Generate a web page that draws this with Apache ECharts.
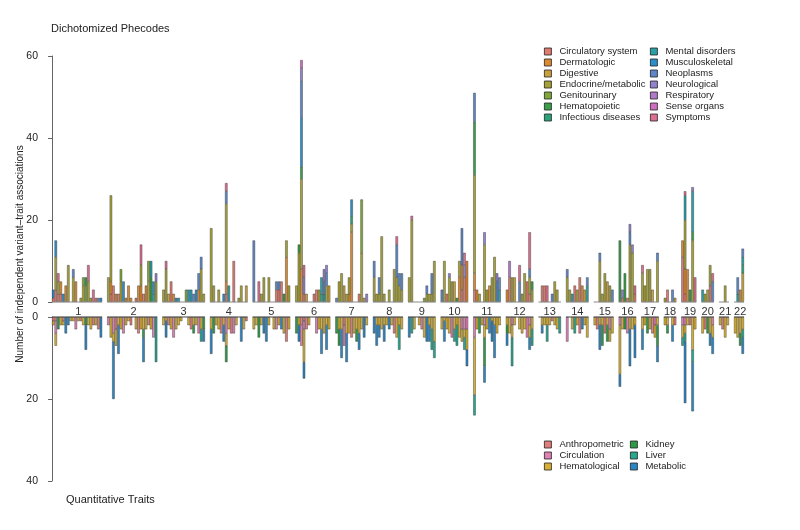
<!DOCTYPE html>
<html>
<head>
<meta charset="utf-8">
<script src="https://cdn.jsdelivr.net/npm/echarts@6/dist/echarts.min.js"></script>
<style>
  html, body { margin: 0; padding: 0; background: #fff; }
  #chart { width: 800px; height: 530px; }
</style>
</head>
<body>
<div id="chart"></div>
<script>
const chromosomes = ['1','2','3','4','5','6','7','8','9','10','11','12','13','14','15','16','17','18','19','20','21','22']

// phecode categories (code letter used in the bar strings below)
const phecodeNames = ['Circulatory system','Dermatologic','Digestive','Endocrine/metabolic','Genitourinary','Hematopoietic','Infectious diseases',
  'Mental disorders','Musculoskeletal','Neoplasms','Neurological','Respiratory','Sense organs','Symptoms']
const phecodeCodes = ['C','D','G','E','U','H','I','M','K','N','L','R','S','Y']
const phecodeColors = ['#e07b6e','#dc8a30','#c9a040','#a6a238','#7fa83a','#3a9e4a','#2aa37c',
  '#2a9fa6','#2c8fca','#5c88c9','#9283cf','#b279c9','#cf6ec0','#dc7090']

// quantitative trait categories
const quantNames = ['Anthropometric','Circulation','Hematological','Kidney','Liver','Metabolic']
const quantCodes = ['A','C','H','K','L','M']
const quantColors = ['#e07e7c','#de82b4','#d6b036','#2f9a46','#27a88e','#2d86c4']

const topTicks = [0, 20, 40, 60]
const bottomTicks = [0, 20, 40]

// one string per genomic bin, e.g. "E6N4" = 6 endocrine + 4 neoplasm associations
const phecodeBars = [
  ['C1K2','C3E3K4E5','C2Y2E3','D3C2','K2','D4','E9','','N2E6','D5','','E1','U2E4','H2U4','E5Y4','E1','Y3','C1','N1','K1'],
  ['E6','C2D3E21','C4','D2','C2','U3E5','K5','D1','D4','G1','','C1','D4','D4Y5E5','C2','D4','U5E5','H6M4','M2K3','L2E5'],
  ['E3','E8Y2','G2','C5','D2','K1','M1','','','U3','K3','M3','N2','K3','D3N4','E8N3','E2'],
  ['E18','E4','','E3','','K2','C2D3E19N3Y2','M4','','C10','','E1','E4','','G4'],
  ['N15','','Y5','E2','E6','','E6','','','C3N2','C3N2','C5','H2','D11E4','E4'],
  ['E4','E12H2','H3D8E12K12E10N9L3S2','C2L4Y3','G2','','','C2','C3','E3','M4I2','M2N3L3','E4N3L2','G4'],
  ['N1','E5','E7','G4','E2','D2E4','D17I2K4E2','','','C2','E10U13E2','G1','L2'],
  ['E6N4','E2','E2N4','E16','E2','','E3','','E8','E6N8Y2','E4N3','N4E3'],
  ['E6','E20Y1','','','','','U1','N2E2','E2','E2N5','E10'],
  ['N3','E10','C2','L1E6','E5','G5','H1','E4D6','C3D6N9','C6L3Y3','D10'],
  ['C3D4E24N7H13','D3','E2','','E14L3','E3','D4','E6','E11','L2N5','M3N3'],
  ['D3','C6R4','E6','G6','','Y4N5','E2','E7','C5','C2Y9N2E4','H2E3'],
  ['','C4','C4','Y4','','N2','E5','E3',''],
  ['E6N2','E3','M2','C4','E3','C6','D4','G3','M4N2'],
  ['','','E10N2','E2','E7','G5','E4','N3'],
  ['H15','C1L2','H7','C1','E14N3L2','E12L2','C2Y2'],
  ['Y2E7','E4','E8','E8','G3','','E10N2'],
  ['E1','C3','','N3','G1'],
  ['C11D4','C2D6M6E12Y1','D8','H3','H2M10E15L1','Y6'],
  ['M3','E2','E3','C4E5','Y2N5'],
  ['','','E4',''],
  ['','M2N4','D3','I2M2G7N2'],
]

const quantBars = [
  ['A1H1','H3A1C3','K3','H2','A1H1','M4','M2','H1','H1','C3','H1','A1','H2','K2M6','H2','H3','A2','H2','A3','M5'],
  ['C2','H5','H2C4M14','A3H4','H2M7','H3','C4','H2','H1','A2','','H3','A4','H3','H3K2M6','H3','A2','H3','C5','L11'],
  ['H2','H1M4','A2','H3','C5','H3','H2','H1','','','H2','A3','H2K2','H2','C4','H3L3','K3M3'],
  ['H3M6','K4','H2','H3','A4','H2M4','H3K4C4','H3','A4','C4','H2','','M6','H3','A1'],
  ['H3','H2','K5','H2','M4','M6','H2','','H3','C3','H2','M3','H4','A6','H3'],
  ['K4','H2M4','A2C5','A1H8C2M4','A3','H2','','','C4','H3','H3M6','H4','H2M6','H3'],
  ['K4','H3K4','H3M7','A2C5','H4M7','H4','A5','H4','H3K3','H4M4','H3','M5','H2'],
  ['M4','H2M5','H2M3','H3','H2M4','H2','M3','H2','A4','H5','H2L6','H3'],
  ['M5','L4','H3','','H2','C3','H5','M6','H2M4','H3L5','H6L4'],
  ['H3','H1M5','H3','H4','C5','H3L3','H2L5','H5','H3C3','H2C3L3','H5C3M4'],
  ['C2H14C3L5','H3','K4','H2','H3K7C2M4','H3','M4','H1M5','H2M8','H4','H2'],
  ['H2K2M3','H4','H3C2L7','H2','','H3','H4','H3','C5','H3C2M3','H3L4'],
  ['','M2H2','H2','H2L4','H2','A1','H2','H3','L4'],
  ['C6','','H3','L4','H2','A4','M3','H2','H5'],
  ['H2','A3','H2M6','H2K5','A4','H2K4','H3C3','H4'],
  ['C2H12M3','H3','K3','C4','H3M9','H3','H2M8'],
  ['H3M5','H2','K4','H3','A4','H3C2','H2K5M4'],
  ['H2','H2K2','','H2M4','A2'],
  ['H3C2L2','H2C2L2M15','H2','A2','H8L3M12','H3'],
  ['H4','A3','K4','H4M3','H3M4C2'],
  ['H2','A3','H5','H2'],
  ['H4','H5','H4K3','H3L2M4'],
]

const FONT = 'Arial, "Liberation Sans", sans-serif'
const GAP = 2 // empty slots between chromosomes

function parseBar(s) {
  const out = {}
  ;(s.match(/[A-Z]\d+/g) || []).forEach((t) => {
    out[t[0]] = (out[t[0]] || 0) + Number(t.slice(1))
  })
  return out
}

// lay chromosomes out on one category axis
const slots = []
const slotLabel = []
const topParsed = []
const botParsed = []
const ranges = []
chromosomes.forEach((c, ci) => {
  if (ci > 0) {
    for (let g = 0; g < GAP; g++) {
      slots.push('s' + slots.length); slotLabel.push(''); topParsed.push({}); botParsed.push({})
    }
  }
  const start = slots.length
  phecodeBars[ci].forEach((b, bi) => {
    slots.push('s' + slots.length)
    slotLabel.push('')
    topParsed.push(parseBar(b))
    botParsed.push(parseBar(quantBars[ci][bi] || ''))
  })
  const end = slots.length - 1
  slotLabel[Math.ceil((start + end) / 2)] = c
  ranges.push([start, end, 0])
})

const baseline = (xi, color) => ({
  type: 'custom',
  xAxisIndex: xi,
  yAxisIndex: xi,
  silent: true,
  z: 5,
  encode: { x: [0, 1], y: 2 },
  data: ranges,
  renderItem(params, api) {
    const p1 = api.coord([api.value(0), 0])
    const p2 = api.coord([api.value(1), 0])
    const w = api.size([1, 0])[0]
    return {
      type: 'line',
      shape: { x1: p1[0] - w / 2, y1: p1[1], x2: p2[0] + w / 2, y2: p2[1] },
      style: { stroke: color, lineWidth: 1 },
    }
  },
})

const series = []
phecodeCodes.forEach((code, i) => {
  series.push({
    name: phecodeNames[i],
    type: 'bar',
    stack: 'phe',
    xAxisIndex: 0,
    yAxisIndex: 0,
    barCategoryGap: '2%',
    itemStyle: { color: phecodeColors[i], borderColor: '#2b2b2b', borderWidth: 0.4 },
    data: topParsed.map((p) => p[code] || '-'),
  })
})
quantCodes.forEach((code, i) => {
  series.push({
    name: quantNames[i],
    type: 'bar',
    stack: 'qt',
    xAxisIndex: 1,
    yAxisIndex: 1,
    barCategoryGap: '2%',
    itemStyle: { color: quantColors[i], borderColor: '#2b2b2b', borderWidth: 0.4 },
    data: botParsed.map((p) => p[code] || '-'),
  })
})
series.push(baseline(0, '#8a8a8a'))
series.push(baseline(1, '#444'))

const legendAt = (names, left, top) => ({
  data: names,
  left,
  top,
  orient: 'vertical',
  icon: 'rect',
  itemWidth: 7,
  itemHeight: 7,
  itemGap: 0,
  padding: 0,
  selectedMode: false,
  itemStyle: { borderColor: '#222', borderWidth: 0.8 },
  textStyle: { fontSize: 9.5, lineHeight: 11, color: '#222', fontFamily: FONT, padding: [0, 0, 0, 3] },
})

const yAxisBase = (grid, max, inverse) => ({
  type: 'value',
  gridIndex: grid,
  min: 0,
  max,
  interval: 20,
  inverse,
  splitLine: { show: false },
  axisLine: { show: true, lineStyle: { color: '#666', width: 1 } },
  axisTick: { show: true, length: 4, lineStyle: { color: '#666' } },
  axisLabel: { fontSize: 10.5, color: '#222', margin: 14, fontFamily: FONT },
})

const option = {
  animation: false,
  backgroundColor: '#fff',
  textStyle: { fontFamily: FONT },
  grid: [
    { left: 52, right: 56, top: 56, height: 246 },
    { left: 52, right: 56, top: 317, height: 164 },
  ],
  xAxis: [
    {
      type: 'category', gridIndex: 0, data: slots,
      axisLine: { show: false }, axisTick: { show: false },
      axisLabel: { interval: 0, formatter: (v, i) => slotLabel[i], fontSize: 11, color: '#333', margin: 4, fontFamily: FONT },
    },
    {
      type: 'category', gridIndex: 1, data: slots, position: 'top',
      axisLine: { show: false }, axisTick: { show: false }, axisLabel: { show: false },
    },
  ],
  yAxis: [
    yAxisBase(0, topTicks[topTicks.length - 1], false),
    yAxisBase(1, bottomTicks[bottomTicks.length - 1], true),
  ],
  legend: [
    legendAt(phecodeNames.slice(0, 7), 544, 46),
    legendAt(phecodeNames.slice(7), 650, 46),
    legendAt(quantNames.slice(0, 3), 544, 439),
    legendAt(quantNames.slice(3), 630, 439),
  ],
  graphic: [
    { type: 'text', left: 51, top: 23, style: { text: 'Dichotomized Phecodes', fontSize: 11, fill: '#222', fontFamily: FONT } },
    { type: 'text', left: 66, top: 494, style: { text: 'Quantitative Traits', fontSize: 11, fill: '#222', fontFamily: FONT } },
    {
      type: 'text', x: 20, y: 254, rotation: Math.PI / 2,
      style: {
        text: 'Number of independent variant–trait associations', fontSize: 10, fill: '#222', fontFamily: FONT,
        align: 'center', verticalAlign: 'middle',
      },
    },
  ],
  series,
}

const chart = echarts.init(document.getElementById('chart'))
chart.setOption(option)
</script>
</body>
</html>
